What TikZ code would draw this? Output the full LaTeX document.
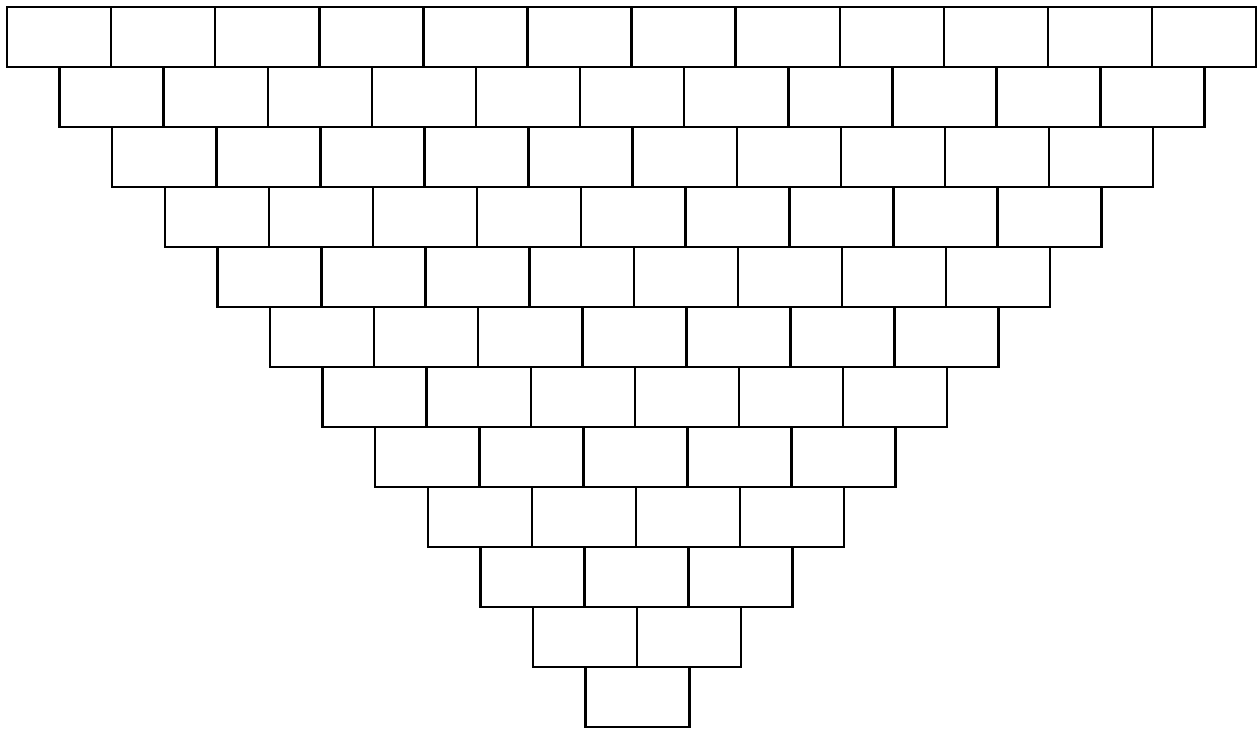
\documentclass[tikz,border=0pt]{standalone}
\usepackage{tikz}

\begin{document}
\begin{tikzpicture}[
  x=0.02cm,y=-0.02cm,
  brick/.style={draw,line width=1.4pt,minimum width=2.082cm,
    minimum height=1.2cm,inner sep=0pt,outer sep=0pt}
]
\useasboundingbox (0,0) rectangle (1257,728);
%% inverted wall, 12 rows, one brick less per row
\foreach \r in {0,...,11}{
  \pgfmathtruncatemacro{\last}{11-\r}
  \foreach \c in {0,...,\last}
    \node[brick] (b-\r-\c) at ({59.05+52.6*\r+104.1*\c},{37+60*\r}) {};
}
\end{tikzpicture}
\end{document}
